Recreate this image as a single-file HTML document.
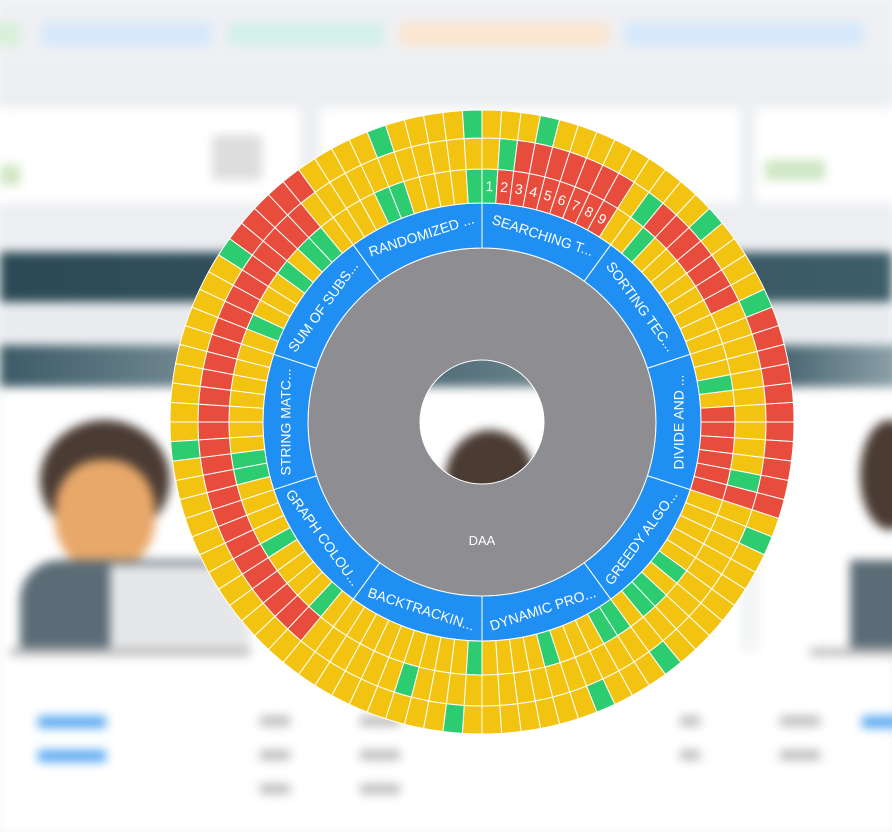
<!DOCTYPE html>
<html><head><meta charset="utf-8">
<style>
html,body{margin:0;padding:0;width:892px;height:832px;overflow:hidden;background:#f4f5f7;font-family:"Liberation Sans",sans-serif;}
#bg{position:absolute;left:0;top:0;width:892px;height:832px;filter:blur(5px);}
#bg div{position:absolute;}
svg{position:absolute;left:0;top:0;}
</style></head><body>
<div id="bg">
  <div style="left:0;top:0;width:892px;height:62px;background:#eef0f3"></div>
  <div style="left:-10px;top:22px;width:30px;height:24px;background:#d9f0d9;border-radius:4px"></div>
  <div style="left:42px;top:22px;width:170px;height:24px;background:#d6e8fb;border-radius:4px"></div>
  <div style="left:228px;top:22px;width:155px;height:24px;background:#d4f0ea;border-radius:4px"></div>
  <div style="left:400px;top:22px;width:210px;height:24px;background:#fbe6d2;border-radius:4px"></div>
  <div style="left:625px;top:22px;width:238px;height:24px;background:#d6e8fb;border-radius:4px"></div>
  <div style="left:0;top:62px;width:892px;height:190px;background:#eceef1"></div>
  <div style="left:-10px;top:108px;width:310px;height:95px;background:#fff"></div>
  <div style="left:320px;top:108px;width:420px;height:95px;background:#fff"></div>
  <div style="left:755px;top:108px;width:150px;height:95px;background:#fff"></div>
  <div style="left:212px;top:135px;width:50px;height:45px;background:#ddd;border-radius:4px"></div>
  <div style="left:765px;top:160px;width:60px;height:20px;background:#cfe6c4"></div>
  <div style="left:0;top:165px;width:20px;height:20px;background:#cfe6c4"></div>
  <div style="left:0;top:252px;width:892px;height:50px;background:linear-gradient(90deg,#2c4a55,#3d5d68)"></div>
  <div style="left:0;top:302px;width:892px;height:40px;background:#e9ebee"></div>
  <div style="left:0;top:345px;width:300px;height:42px;background:linear-gradient(90deg,#3c5a66,#8fa3ab)"></div>
  <div style="left:320px;top:345px;width:420px;height:42px;background:linear-gradient(90deg,#3c5a66,#8fa3ab)"></div>
  <div style="left:760px;top:345px;width:140px;height:42px;background:linear-gradient(90deg,#3c5a66,#8fa3ab)"></div>
  <div style="left:0;top:387px;width:300px;height:265px;background:#fff"></div>
  <div style="left:320px;top:387px;width:420px;height:265px;background:#fff"></div>
  <div style="left:760px;top:387px;width:140px;height:265px;background:#fff"></div>
  <div style="left:40px;top:420px;width:130px;height:120px;background:#4a3b33;border-radius:50%"></div>
  <div style="left:55px;top:460px;width:100px;height:110px;background:#e8a86a;border-radius:45%"></div>
  <div style="left:20px;top:560px;width:230px;height:90px;background:#5c6c76;border-radius:40px 40px 0 0"></div>
  <div style="left:110px;top:565px;width:140px;height:85px;background:#e6e7e9"></div>
  <div style="left:445px;top:430px;width:90px;height:100px;background:#4a3b33;border-radius:50%"></div>
  <div style="left:860px;top:420px;width:60px;height:110px;background:#4a3b33;border-radius:50%"></div>
  <div style="left:850px;top:560px;width:60px;height:90px;background:#5c6c76"></div>
  <div style="left:0;top:652px;width:892px;height:180px;background:#fff"></div>
  <div style="left:10px;top:648px;width:240px;height:8px;background:#bbb"></div>
  <div style="left:810px;top:648px;width:90px;height:8px;background:#bbb"></div>
  <div style="left:38px;top:716px;width:68px;height:12px;background:#5aa9f0"></div>
  <div style="left:38px;top:750px;width:68px;height:12px;background:#5aa9f0"></div>
  <div style="left:862px;top:716px;width:40px;height:12px;background:#5aa9f0"></div>
  <div style="left:260px;top:716px;width:30px;height:10px;background:#bbb"></div>
  <div style="left:260px;top:750px;width:30px;height:10px;background:#bbb"></div>
  <div style="left:260px;top:784px;width:30px;height:10px;background:#bbb"></div>
  <div style="left:360px;top:716px;width:40px;height:10px;background:#bbb"></div>
  <div style="left:360px;top:750px;width:40px;height:10px;background:#bbb"></div>
  <div style="left:360px;top:784px;width:40px;height:10px;background:#bbb"></div>
  <div style="left:680px;top:716px;width:20px;height:10px;background:#bbb"></div>
  <div style="left:680px;top:750px;width:20px;height:10px;background:#bbb"></div>
  <div style="left:780px;top:716px;width:40px;height:10px;background:#bbb"></div>
  <div style="left:780px;top:750px;width:40px;height:10px;background:#bbb"></div>
</div>
<svg id="chart" width="892" height="832"></svg>
<script>
const categories=["SEARCHING T...","SORTING TEC...","DIVIDE AND ...","GREEDY ALGO...","DYNAMIC PRO...","BACKTRACKIN...","GRAPH COLOU...","STRING MATC...","SUM OF SUBS...","RANDOMIZED ..."];
const labelRot=[18,54,-90,-54,-18,18,54,-90,-54,-18];
const ring1=["GRRRRRRRRY","YGYYYYYYYY","YYGYRRRRRR","YYYYYGYGGY","GGYYYGYYYY","GYYYYYYYYY","YGYYYYGYYY","YGGYYYYYYY","YGYYYGYGGY","YYYGGYYYYG"];
const ring2=["YGRRRRRRRY","GRRRRRRRYY","YYYYYYYYGR","YYYYYYYYYY","YYYYYYYYYY","YYYYGYYYYY","YRRRRRRRRR","RRRRRRRRRR","RRRRRRRRRY","YYYYYYYYYY"];
const ring3=["YYYGYYYYYY","YYYGYYYYGR","RRRRRRRRRR","YGYYYYYYYG","YYYGYYYYYY","YGYYYYYYYY","YYYYYYYYYY","YYYGYYYYYY","YYYYGRRRRR","YYYYGYYYYG"];
const itemLabels=["1","2","3","4","5","6","7","8","9",""];
const rootLabel="DAA";
const COL={Y:"#f2c311",R:"#e74c3c",G:"#2ecc71"};
const cx=482,cy=422;
const radii=[62,174,219,253,284,312];
const svg=document.getElementById('chart');
const NS="http://www.w3.org/2000/svg";
function ang(i,n){return i/n*2*Math.PI;}
function pt(r,a){return [cx+r*Math.sin(a),cy-r*Math.cos(a)];}
function arc(r0,r1,a0,a1){
  const [x0,y0]=pt(r1,a0),[x1,y1]=pt(r1,a1),[x2,y2]=pt(r0,a1),[x3,y3]=pt(r0,a0);
  const lg=(a1-a0)>Math.PI?1:0;
  return `M${x0},${y0}A${r1},${r1} 0 ${lg} 1 ${x1},${y1}L${x2},${y2}A${r0},${r0} 0 ${lg} 0 ${x3},${y3}Z`;
}
const root=document.createElementNS(NS,'path');
root.setAttribute('d',`M${cx-radii[1]},${cy}A${radii[1]},${radii[1]} 0 1 1 ${cx+radii[1]},${cy}A${radii[1]},${radii[1]} 0 1 1 ${cx-radii[1]},${cy}M${cx-radii[0]},${cy}A${radii[0]},${radii[0]} 0 1 0 ${cx+radii[0]},${cy}A${radii[0]},${radii[0]} 0 1 0 ${cx-radii[0]},${cy}Z`);
root.setAttribute('fill','#8e8d91');root.setAttribute('fill-rule','evenodd');
root.setAttribute('stroke','#fff');root.setAttribute('stroke-width','1');


svg.appendChild(root);
const rt=document.createElementNS(NS,'text');
rt.setAttribute('x',cx);rt.setAttribute('y',cy+123);rt.setAttribute('fill','#fff');
rt.setAttribute('font-size','13');rt.setAttribute('text-anchor','middle');
rt.setAttribute('font-family','Liberation Sans, sans-serif');
rt.textContent=rootLabel;


svg.appendChild(rt);
const nC=categories.length;
categories.forEach((c,i)=>{
  const a0=ang(i,nC),a1=ang(i+1,nC);
  const p=document.createElementNS(NS,'path');
  p.setAttribute('d',arc(radii[1],radii[2],a0,a1));
  p.setAttribute('fill','#1f8ff3');p.setAttribute('stroke','#fff');p.setAttribute('stroke-width','1');
  
  
  svg.appendChild(p);
  const am=(a0+a1)/2,[tx,ty]=pt((radii[1]+radii[2])/2,am);
  const t=document.createElementNS(NS,'text');
  t.setAttribute('x',tx);t.setAttribute('y',ty);t.setAttribute('fill','#fff');
  t.setAttribute('font-size','14');t.setAttribute('text-anchor','middle');t.setAttribute('dominant-baseline','central');
  t.setAttribute('font-family','Liberation Sans, sans-serif');
  t.setAttribute('transform',`rotate(${labelRot[i]} ${tx} ${ty})`);
  t.textContent=c;
  
  
  svg.appendChild(t);
  [ring1,ring2,ring3].forEach((ring,k)=>{
    const s=ring[i];const n=s.length;
    for(let j=0;j<n;j++){
      const b0=a0+(a1-a0)*j/n,b1=a0+(a1-a0)*(j+1)/n;
      const q=document.createElementNS(NS,'path');
      q.setAttribute('d',arc(radii[3+k-1],radii[3+k],b0,b1));
      q.setAttribute('fill',COL[s[j]]);q.setAttribute('stroke','#fff');q.setAttribute('stroke-width','1');
      
      
      svg.appendChild(q);
      if(k===0&&i===0&&itemLabels[j]){
        const bm=(b0+b1)/2,[lx,ly]=pt((radii[2]+radii[3])/2,bm);
        const lt=document.createElementNS(NS,'text');
        lt.setAttribute('x',lx);lt.setAttribute('y',ly);lt.setAttribute('fill','#fff');
        lt.setAttribute('font-size','14');lt.setAttribute('text-anchor','middle');lt.setAttribute('dominant-baseline','central');
        lt.setAttribute('font-family','Liberation Sans, sans-serif');
        lt.setAttribute('transform',`rotate(${bm*180/Math.PI} ${lx} ${ly})`);
        lt.textContent=itemLabels[j];
        
        
        svg.appendChild(lt);
      }
    }
  });
});
</script>
</body></html>
